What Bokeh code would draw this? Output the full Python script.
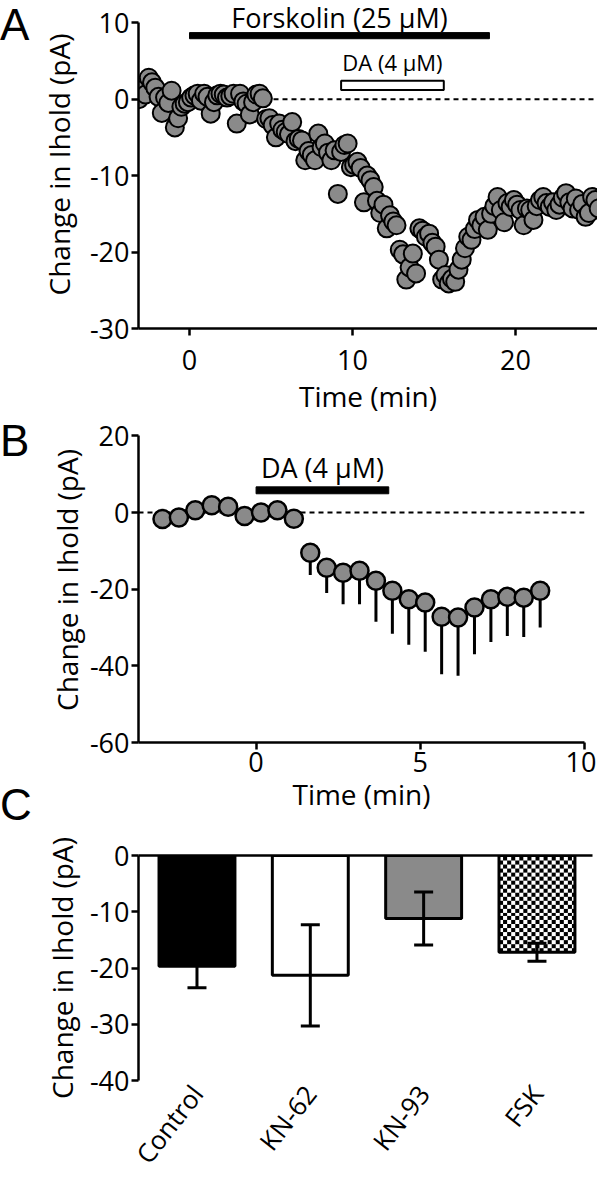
import numpy as np
from bokeh.plotting import figure
from bokeh.models import (ColumnDataSource, FixedTicker, Whisker, TeeHead, LinearAxis,
                          Range1d, Span, Div)
from bokeh.layouts import column, row
from bokeh.core.properties import value
from bokeh.embed import file_html
from bokeh.resources import INLINE

# ---------------- data ----------------
# Panel A: change in Ihold (pA) vs time (min)
a_time = [
    -3.1, -2.9, -2.7, -2.5, -2.3, -2.1, -1.9, -1.7, -1.5, -1.3,
    -1.1, -0.9, -0.7, -0.5, -0.3, -0.1, 0.1, 0.3, 0.5, 0.7,
    0.9, 1.1, 1.3, 1.5, 1.7, 1.9, 2.1, 2.3, 2.5, 2.7,
    2.9, 3.1, 3.3, 3.5, 3.7, 3.9, 4.1, 4.3, 4.5, 4.7,
    4.9, 5.1, 5.3, 5.5, 5.7, 5.9, 6.1, 6.3, 6.5, 6.7,
    6.9, 7.1, 7.3, 7.5, 7.7, 7.9, 8.1, 8.3, 8.5, 8.7,
    8.9, 9.1, 9.3, 9.5, 9.7, 9.9, 10.1, 10.3, 10.5, 10.7,
    10.9, 11.1, 11.3, 11.5, 11.7, 11.9, 12.1, 12.3, 12.5, 12.7,
    12.9, 13.1, 13.3, 13.5, 13.7, 13.9, 14.1, 14.3, 14.5, 14.7,
    14.9, 15.1, 15.3, 15.5, 15.7, 15.9, 16.1, 16.3, 16.5, 16.7,
    16.9, 17.1, 17.3, 17.5, 17.7, 17.9, 18.1, 18.3, 18.5, 18.7,
    18.9, 19.1, 19.3, 19.5, 19.7, 19.9, 20.1, 20.3, 20.5, 20.7,
    20.9, 21.1, 21.3, 21.5, 21.7, 21.9, 22.1, 22.3, 22.5, 22.7,
    22.9, 23.1, 23.3, 23.5, 23.7, 23.9, 24.1, 24.3, 24.5, 24.7,
    24.9, 25.1,
]
a_ihold = [
    0.0, 1.2, 0.6, 2.8, 2.2, 1.5, 0.3, -1.8, 0.2, -0.5,
    1.1, -3.7, -2.5, -1.0, -0.6, -0.4, 0.2, 0.5, 0.7, -0.2,
    0.7, 0.3, -1.9, -0.4, 0.5, 0.7, 0.6, 0.2, 0.4, 0.7,
    -3.2, 0.7, -0.3, -0.6, -2.0, -0.4, 0.6, 0.7, 0.1, -2.6,
    -2.5, -3.4, -5.0, -3.2, -4.0, -4.3, -4.6, -3.0, -5.5, -5.2,
    -5.4, -8.0, -6.8, -7.3, -8.0, -4.5, -6.3, -5.8, -7.0, -8.0,
    -6.7, -12.4, -6.9, -6.0, -5.8, -8.9, -8.6, -8.2, -9.0, -13.5,
    -10.0, -10.6, -11.5, -13.3, -14.9, -13.8, -16.9, -15.2, -16.0, -16.5,
    -19.7, -20.3, -23.6, -22.0, -20.2, -22.8, -16.9, -17.2, -18.0, -17.6,
    -18.8, -19.3, -21.0, -23.6, -23.0, -24.1, -23.5, -23.9, -22.3, -21.0,
    -19.5, -18.0, -18.4, -17.0, -15.8, -16.5, -15.4, -17.1, -15.0, -14.0,
    -12.8, -14.5, -16.1, -13.6, -14.1, -13.2, -13.8, -14.5, -16.5, -14.3,
    -14.5, -15.8, -14.0, -13.2, -12.8, -13.6, -14.1, -13.5, -14.5, -13.8,
    -12.9, -12.3, -13.5, -14.3, -13.0, -14.5, -13.7, -15.4, -14.9, -12.8,
    -13.2, -14.3,
]
a_forskolin = [0.0, 18.4]      # application window (min)
a_da = [9.3, 15.6]             # application window (min)

# Panel B: mean +/- SEM
b_time = [-2.85, -2.35, -1.85, -1.35, -0.85, -0.35, 0.15, 0.65, 1.15, 1.65,
          2.15, 2.65, 3.15, 3.65, 4.15, 4.65, 5.15, 5.65, 6.15, 6.65,
          7.15, 7.65, 8.15, 8.65]
b_ihold = [-1.7, -1.3, 0.6, 1.9, 1.5, -0.9, 0.0, 0.6, -1.6, -10.5,
           -14.4, -15.7, -15.2, -17.8, -20.4, -22.6, -23.5, -27.2, -27.4, -24.8,
           -22.6, -22.0, -22.2, -20.4]
b_sem = [0.8, 0.9, 1.0, 1.1, 1.0, 0.9, 0.8, 1.0, 1.2, 5.8,
         6.6, 8.2, 8.7, 10.7, 11.2, 11.9, 12.8, 15.0, 15.2, 12.2,
         11.2, 10.2, 10.3, 9.6]
b_da = [0.0, 4.04]

# Panel C
c_groups = ["Control", "KN-62", "KN-93", "FSK"]
c_mean = [-19.7, -21.3, -11.2, -17.2]
c_sem = [3.8, 9.0, 4.7, 1.6]

# ---------------- style ----------------
FONT = "Open Sans"
GRAY = "#8a8a8a"
LW = 36          # width of the panel-letter strip


def style_axis(ax, standoff=8):
    ax.axis_line_width = 2.5
    ax.axis_line_color = "black"
    ax.major_tick_line_width = 2.5
    ax.major_tick_line_color = "black"
    ax.major_tick_out = 7
    ax.major_tick_in = 0
    ax.minor_tick_line_color = None
    ax.major_label_text_font = FONT
    ax.major_label_text_font_size = "27px"
    ax.major_label_text_color = "black"
    ax.major_label_standoff = standoff
    ax.axis_label_text_font = FONT
    ax.axis_label_text_font_size = "28px"
    ax.axis_label_text_font_style = "normal"
    ax.axis_label_text_color = "black"


def labels_for(ticks):
    return {t: str(t) for t in ticks}


def base(h, fw, xr, yr, left, right, top, bottom):
    p = figure(frame_width=fw, height=h, x_range=xr, y_range=yr, output_backend="svg",
               toolbar_location=None, min_border_left=left, min_border_right=right,
               min_border_top=top, min_border_bottom=bottom)
    p.grid.visible = False
    p.outline_line_color = None
    return p


# ---------------- Panel A ----------------
A_H = 417
pa = base(A_H, 459, Range1d(-3.13, 25.03), Range1d(-30, 12.9), 137 - LW, 0, 0, 89)
pa.add_layout(Span(location=0, dimension="width", line_color="black", line_width=2,
                   line_dash="5 4", level="underlay"))
pa.quad(left=[a_forskolin[0]], right=[a_forskolin[1]], bottom=[7.9], top=[8.7],
        fill_color="black", line_color="black", line_width=1)
pa.quad(left=[a_da[0]], right=[a_da[1]], bottom=[1.2], top=[2.4],
        fill_color="white", line_color="black", line_width=2)
pa.text(x=[sum(a_forskolin) / 2], y=[10.7], text=["Forskolin (25 µM)"],
        text_align="center", text_baseline="middle", text_font=value(FONT),
        text_font_size="27px", text_color="black")
pa.text(x=[sum(a_da) / 2], y=[4.8], text=["DA (4 µM)"],
        text_align="center", text_baseline="middle", text_font=value(FONT),
        text_font_size="22px", text_color="black")
pa.scatter(a_time, a_ihold, size=18, fill_color=GRAY, line_color="black", line_width=2)
style_axis(pa.xaxis[0], standoff=14)
style_axis(pa.yaxis[0], standoff=2)
pa.xaxis.ticker = FixedTicker(ticks=[0, 10, 20])
pa.yaxis.ticker = FixedTicker(ticks=[-30, -20, -10, 0, 10])
pa.yaxis.major_label_overrides = labels_for([-30, -20, -10, 0, 10])
pa.yaxis.bounds = (-30, 10)
pa.xaxis.axis_label = "Time (min)"
pa.yaxis.axis_label = "Change in Ihold (pA)"
pa.xaxis.axis_label_standoff = 4
pa.yaxis.axis_label_standoff = 9

# ---------------- Panel B ----------------
B_H = 411
pb = base(B_H, 446, Range1d(-3.58, 10.0), Range1d(-60, 24.8), 137 - LW, 13, 0, 86)
pb.add_layout(Span(location=0, dimension="width", line_color="black", line_width=2,
                   line_dash="5 4", level="underlay"))
b_low = [m - s for m, s in zip(b_ihold, b_sem)]
pb.segment(x0=b_time, y0=b_ihold, x1=b_time, y1=b_low, line_color="black", line_width=3)
pb.quad(left=[b_da[0]], right=[b_da[1]], bottom=[4.9], top=[6.7],
        fill_color="black", line_color="black", line_width=1)
pb.text(x=[sum(b_da) / 2], y=[11.7], text=["DA (4 µM)"],
        text_align="center", text_baseline="middle", text_font=value(FONT),
        text_font_size="27px", text_color="black")
pb.scatter(b_time, b_ihold, size=18, fill_color=GRAY, line_color="black", line_width=2.5)
style_axis(pb.xaxis[0], standoff=2)
style_axis(pb.yaxis[0], standoff=2)
pb.xaxis.ticker = FixedTicker(ticks=[0, 5, 10])
pb.yaxis.ticker = FixedTicker(ticks=[-60, -40, -20, 0, 20])
pb.yaxis.major_label_overrides = labels_for([-60, -40, -20, 0, 20])
pb.yaxis.bounds = (-60, 20)
pb.xaxis.axis_label = "Time (min)"
pb.yaxis.axis_label = "Change in Ihold (pA)"
pb.xaxis.axis_label_standoff = 0
pb.yaxis.axis_label_standoff = 1

# ---------------- Panel C ----------------
C_H = 1184 - A_H - B_H
C_TOP, C_FRAME_H = 27, 228
C_L, C_R = 136 - LW, 6
C_FW = 454
c_x = list(range(len(c_groups)))
c_xr = Range1d(-0.516, 3.49)
pc = base(C_H, C_FW, c_xr, Range1d(-40, 0), C_L, C_R, C_TOP, C_H - C_TOP - C_FRAME_H)
BAR_W = 0.67
csrc = ColumnDataSource(dict(
    x=c_x, mean=c_mean,
    up=[m + s for m, s in zip(c_mean, c_sem)],
    lo=[m - s for m, s in zip(c_mean, c_sem)],
    fill=["black", "white", GRAY, "white"],
))
pc.vbar(x="x", top=0, bottom="mean", width=BAR_W, source=csrc,
        fill_color="fill", line_color=None)

# checkerboard texture for the FSK bar, built at screen resolution (4 px cells)
px_x = C_FW / (c_xr.end - c_xr.start)
px_y = C_FRAME_H / 40.0
k = c_groups.index("FSK")
nx = int(round(BAR_W * px_x))
ny = int(round(-c_mean[k] * px_y))
jj, ii = np.meshgrid(np.arange(nx), np.arange(ny))
cells = ((ii // 4) + (jj // 4)) % 2
img = np.where(cells == 0, np.uint32(0xFF000000), np.uint32(0xFFFFFFFF)).astype(np.uint32)
pc.image_rgba(image=[img], x=c_x[k] - BAR_W / 2, y=c_mean[k], dw=BAR_W, dh=-c_mean[k])

pc.vbar(x="x", top=0, bottom="mean", width=BAR_W, source=csrc,
        fill_color=None, line_color="black", line_width=3)
pc.add_layout(Whisker(base="x", upper="up", lower="lo", source=csrc,
                      line_color="black", line_width=3, level="overlay",
                      upper_head=TeeHead(size=19, line_width=3, line_color="black"),
                      lower_head=TeeHead(size=19, line_width=3, line_color="black")))
top_axis = LinearAxis(ticker=FixedTicker(ticks=[]))
pc.add_layout(top_axis, "above")
top_axis.axis_line_width = 2.5
top_axis.axis_line_color = "black"
top_axis.major_tick_line_color = None
top_axis.minor_tick_line_color = None
style_axis(pc.yaxis[0], standoff=2)
pc.yaxis.ticker = FixedTicker(ticks=[-40, -30, -20, -10, 0])
pc.yaxis.major_label_overrides = labels_for([-40, -30, -20, -10, 0])
pc.yaxis.axis_label = "Change in Ihold (pA)"
pc.yaxis.axis_label_standoff = 6
bx = pc.below[0]
style_axis(bx, standoff=8)
bx.ticker = FixedTicker(ticks=c_x)
bx.major_label_overrides = {i: g for i, g in zip(c_x, c_groups)}
bx.axis_line_color = None
bx.major_tick_line_color = None
bx.major_tick_out = 0
bx.major_label_orientation = np.radians(52)
bx.major_label_text_font_size = "26px"

# ---------------- panel letters ----------------
letters = Div(width=LW, height=1184, margin=(0, 0, 0, 0),
              styles={"padding": "0px", "margin": "0px", "overflow": "visible"},
              text="""
<div style="position:relative;width:36px;height:1184px;font-family:'Liberation Sans',Arial,sans-serif;font-size:44px;line-height:49px;color:#000;">
<span style="position:absolute;left:0;top:0px;">A</span>
<span style="position:absolute;left:0;top:416px;">B</span>
<span style="position:absolute;left:0;top:780px;">C</span>
</div>""")

layout = row(letters, column(pa, pb, pc, spacing=0), spacing=0)
open("out.html", "w").write(file_html(layout, INLINE))
